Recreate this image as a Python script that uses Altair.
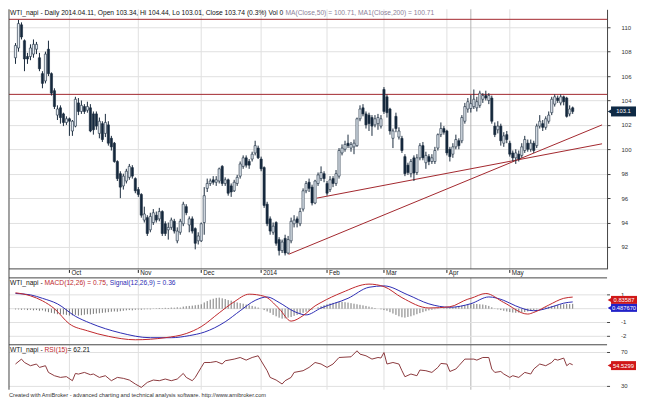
import altair as alt
import pandas as pd

# ---------------- data ----------------
opens = [107.5,108.3,110.2,108.9,107.6,107.6,107.8,108.2,107.5,106.2,
         105.6,108.2,106.2,104.8,102.8,103.4,102.9,102.2,102.5,101.5,
         101.9,103.8,103.1,103.5,103.2,103.4,102.9,102.9,101.3,102.1,
         101.3,102.0,100.9,100.5,99.0,98.0,97.0,97.4,97.7,98.5,
         97.6,96.7,96.3,94.2,94.4,93.4,94.0,94.6,94.3,94.9,
         93.9,93.4,93.6,94.1,92.5,93.2,93.9,95.3,93.8,94.3,
         93.5,92.5,92.5,94.0,96.8,97.2,97.5,97.3,97.4,98.6,
         97.2,97.5,97.0,96.6,97.2,97.8,98.6,99.3,99.0,99.2,
         99.7,100.1,99.2,98.5,95.5,94.3,93.2,94.0,92.6,91.7,
         92.7,91.5,92.5,93.9,94.3,93.9,95.1,96.6,97.3,96.9,
         95.6,97.2,97.6,98.0,97.2,96.7,97.6,97.2,97.8,99.7,
         100.0,100.5,100.1,100.2,100.3,102.5,103.4,102.9,102.8,102.6,
         102.0,102.1,101.9,104.9,104.3,103.3,100.9,102.7,101.0,100.9,
         99.4,98.7,98.0,99.3,98.1,99.3,100.3,98.9,99.4,99.0,
         99.0,100.1,101.2,101.7,101.5,100.0,99.6,100.2,100.7,100.7,
         102.3,103.3,103.34,103.5,103.4,103.6,104.1,104.4,104.0,104.2,
         101.9,101.6,101.9,100.5,101.2,100.5,99.7,99.3,99.6,99.5,
         99.9,100.5,100.0,100.5,100.3,101.9,102.1,101.8,102.3,103.0,
         103.7,104.2,103.8,104.3,104.2,102.9,103.4]
highs = [108.7,110.6,110.4,109.0,107.9,108.6,109.0,108.8,107.9,106.4,
         108.0,108.9,106.3,105.0,103.6,103.6,103.0,102.7,102.6,102.4,
         104.3,104.2,104.0,103.7,103.9,103.7,103.1,103.1,102.6,102.3,
         102.9,102.3,101.1,100.6,99.1,98.2,98.0,98.4,98.8,98.7,
         97.7,96.9,96.4,95.3,94.6,94.8,95.1,94.9,95.2,95.0,
         94.1,94.0,94.4,94.3,93.6,94.3,95.7,95.5,94.5,94.5,
         93.6,93.2,94.0,96.9,97.6,97.6,97.8,97.8,98.5,98.7,
         97.7,97.6,97.2,97.5,97.9,99.0,99.5,99.5,99.2,99.8,
         100.7,100.3,99.4,98.6,95.7,94.5,94.0,94.1,92.8,92.6,
         93.0,92.9,94.4,94.6,94.5,95.2,96.8,97.4,97.6,97.1,
         97.5,98.1,98.6,98.2,97.4,97.8,97.8,98.3,100.1,100.4,
         100.7,101.2,100.6,100.8,102.6,103.6,103.7,103.1,103.0,102.8,
         102.8,102.9,102.8,105.1,104.5,103.4,101.7,103.0,101.8,101.1,
         99.6,98.9,99.2,99.5,99.6,100.5,100.6,99.8,99.6,99.6,
         100.2,101.3,102.2,101.9,101.6,100.2,100.5,101.2,100.9,102.8,
         103.8,104.2,104.44,104.9,104.3,104.8,104.6,104.8,104.6,104.4,
         102.2,102.3,102.1,101.4,101.5,100.7,99.9,100.0,99.9,100.5,
         101.1,100.8,100.8,100.7,102.1,102.8,102.4,102.7,103.1,104.3,
         104.5,104.4,104.5,104.4,104.3,103.6,103.5]
lows = [107.0,108.0,109.0,106.4,107.0,107.3,107.5,107.8,106.4,105.0,
        105.4,106.0,104.4,103.3,102.4,102.1,101.9,102.0,101.1,101.1,
        101.8,102.8,102.9,102.9,103.0,101.4,101.2,101.6,100.9,100.6,
        101.0,100.3,99.9,98.9,97.4,96.0,96.7,97.2,97.5,97.6,
        96.4,96.1,94.4,94.0,92.9,93.2,93.8,94.0,94.1,92.9,
        92.9,92.6,93.4,93.1,92.3,93.0,93.7,94.6,93.2,93.1,
        91.8,92.2,92.4,93.0,96.5,97.0,97.1,97.0,97.2,97.0,
        97.0,96.2,96.1,96.5,97.0,97.6,98.4,98.5,98.4,99.0,
        99.5,99.2,98.2,95.2,93.7,93.0,93.0,92.1,91.3,91.5,
        91.3,91.4,92.3,93.6,93.6,93.7,94.9,96.4,96.5,95.4,
        95.5,97.0,97.4,97.3,96.2,96.5,96.9,97.0,97.6,99.5,
        99.8,100.1,99.8,99.6,100.2,102.3,102.7,101.7,101.5,101.1,
        101.8,101.6,101.7,102.9,102.6,101.2,100.1,101.4,100.8,99.7,
        97.8,97.9,97.7,97.4,97.9,99.1,99.1,98.4,98.7,98.8,
        98.8,99.9,101.0,101.2,99.5,99.0,99.3,100.0,100.0,100.5,
        102.1,103.0,103.01,103.3,103.1,103.4,103.8,104.0,103.7,102.1,
        101.0,101.3,100.3,100.2,100.5,99.4,99.0,98.8,99.0,99.3,
        99.7,99.8,99.8,99.7,100.1,101.7,101.5,101.6,102.1,102.8,
        103.5,103.8,103.6,103.6,102.6,102.7,102.9]
closes = [108.5,110.3,109.2,107.4,107.4,108.3,108.6,108.6,106.6,105.4,
          107.8,106.2,104.6,103.5,103.3,102.6,102.2,102.5,102.3,102.3,
          104.1,103.1,103.6,103.1,103.5,101.5,101.6,101.9,102.3,100.8,
          102.2,100.5,100.2,99.0,97.6,96.9,97.8,98.2,98.6,97.8,
          96.6,96.3,94.6,94.7,93.1,94.5,94.8,94.2,94.9,93.1,
          93.1,93.6,94.2,93.3,93.3,94.1,95.5,94.8,94.3,93.3,
          92.3,92.9,93.9,96.2,97.2,97.4,97.3,97.5,98.4,97.2,
          97.5,96.4,96.5,97.3,97.7,98.8,99.3,98.7,98.7,99.6,
          100.3,99.3,98.4,95.4,93.9,93.3,93.7,92.3,91.7,92.4,
          91.5,92.6,94.1,94.2,94.0,94.9,96.6,97.2,96.8,95.6,
          97.4,97.9,98.1,97.6,96.4,97.5,97.2,98.0,99.9,100.1,
          100.4,100.3,100.4,100.5,102.5,103.3,102.9,102.0,102.1,101.9,
          102.5,102.6,102.5,103.1,103.0,101.5,101.5,101.7,101.5,99.9,
          98.0,98.1,99.0,98.05,99.3,100.3,99.3,99.5,99.0,99.3,
          99.9,101.2,101.7,101.4,99.7,99.4,100.2,100.8,100.3,102.6,
          103.5,103.9,103.74,104.1,103.9,104.6,104.4,104.2,104.4,102.3,
          101.2,101.9,100.7,101.1,100.8,99.6,99.3,99.7,99.2,100.2,
          100.8,100.0,100.5,99.9,101.9,102.3,101.8,102.5,102.8,104.1,
          104.3,104.0,104.3,103.9,102.7,103.3,103.1]

month_labels = ["Oct", "Nov", "Dec", "2014", "Feb", "Mar", "Apr", "May"]
month_bars = [18, 41, 62, 82, 104, 123, 144, 165]
cursor_bar = [152]

price_ticks = [92, 94, 96, 98, 100, 102, 104, 106, 108, 110]
level_lines = [110.65, 104.5]
trend_x1 = [91.2, 100.6]
trend_y1 = [91.4, 96.0]
trend_x2 = [195.8, 195.8]
trend_y2 = [102.0, 100.45]

macd_grid = [-2, -1, 0, 1]
macd_ticks = [-2, -1, 1]
macd_tick_labels = ["-2", "-1", "1"]
rsi_ticks = [30, 70]
rsi_tick_labels = ["30", "70"]

macd_bars = [0, 5, 9, 13, 18, 24, 31, 40, 50, 57, 62, 68, 73, 78, 83, 88, 92, 96, 100, 102,
             109, 118, 123, 129, 138, 145, 151, 152, 157, 163, 171, 173, 178, 183, 186]
macd_vals = [1.15, 0.93, 0.57, 0.0, -1.1, -1.6, -2.0, -2.25, -2.1, -1.8, -1.3, -0.3, 0.5, 1.05, 0.9,
             0.0, -0.9, -0.5, 0.2, 0.45, 1.17, 1.78, 1.6, 0.8, 0.05, 0.14, 0.69, 0.75, 1.1, 0.45,
             -0.39, -0.27, 0.26, 0.75, 0.84]
signal_bars = [0, 5, 9, 14, 20, 25, 35, 45, 52, 58, 63, 70, 75, 80, 84, 88, 93, 97, 102, 111,
               118, 123, 131, 138, 145, 152, 158, 163, 167, 173, 180, 183, 186]
signal_vals = [1.1, 1.0, 0.75, 0.35, -0.55, -1.05, -1.75, -2.1, -2.1, -1.95, -1.7, -0.95, -0.15,
               0.6, 0.85, 0.45, -0.2, -0.45, 0.05, 0.75, 1.55, 1.65, 1.0, 0.35, 0.1, 0.36, 0.85,
               0.6, 0.2, -0.15, 0.2, 0.4, 0.49]
hist_vals = [-0.05, -0.05, -0.08, -0.06, -0.1, -0.08, -0.12, -0.1, -0.15, -0.12,
             -0.2, -0.25, -0.3, -0.35, -0.4, -0.38, -0.42, -0.45,
             -0.5, -0.48, -0.45, -0.5, -0.47, -0.44, -0.4, -0.42, -0.38, -0.35, -0.33, -0.3, -0.28,
             -0.25, -0.22, -0.2, -0.22, -0.18, -0.15, -0.12, -0.1, -0.12, -0.08, -0.06, -0.08, -0.05, -0.04, -0.05,
             0.02, 0.03, 0.05, 0.04, 0.06, 0.05, 0.08, 0.07, 0.1, 0.08,
             0.15, 0.18, 0.2, 0.22, 0.25, 0.28, 0.32,
             0.45, 0.55, 0.65, 0.72, 0.78, 0.8, 0.75, 0.7, 0.62, 0.58,
             0.5, 0.45, 0.4, 0.36, 0.3, 0.25, 0.2, 0.15,
             0.08, 0.0, -0.1, -0.2, -0.3,
             -0.45, -0.55, -0.65, -0.72, -0.7, -0.65, -0.6, -0.52, -0.45, -0.38,
             -0.3, -0.22, -0.15, -0.08, 0.0,
             0.1, 0.18, 0.25, 0.32, 0.38, 0.42, 0.45, 0.48, 0.5, 0.47,
             0.44, 0.4, 0.36, 0.32, 0.28, 0.24, 0.2, 0.15,
             0.1, 0.05, 0.0, -0.05, -0.1, -0.15,
             -0.25, -0.35, -0.45, -0.55, -0.62, -0.65, -0.6, -0.55, -0.48, -0.4, -0.32,
             -0.25, -0.18, -0.12, -0.08, -0.04, -0.02, 0.0,
             0.03, 0.05, 0.08, 0.1, 0.14, 0.18, 0.22, 0.26,
             0.3, 0.33, 0.35, 0.34, 0.32, 0.3, 0.26, 0.2,
             0.1, 0.02, -0.05, -0.1, -0.15,
             -0.2, -0.24, -0.28, -0.3, -0.28, -0.26, -0.24, -0.2, -0.16,
             -0.1, -0.05, 0.0, 0.05, 0.1, 0.14,
             0.18, 0.22, 0.26, 0.3, 0.32, 0.34, 0.33, 0.35]
rsi_bars = [0, 2, 3, 5, 7, 8, 10, 11, 13, 15, 17, 19, 20, 21, 23, 25, 26, 28, 30, 32,
            34, 36, 38, 40, 42, 44, 46, 48, 50, 52, 54, 56, 57, 59, 60, 62, 63, 65, 67, 69,
            70, 73, 75, 77, 79, 81, 82, 84, 85, 87, 89, 90, 92, 93, 96, 98, 100, 102, 104, 106,
            108, 112, 114, 115, 117, 119, 121, 122, 123, 124, 126, 128, 129, 130, 132, 134, 135, 137, 139, 141,
            142, 144, 145, 147, 148, 150, 153, 154, 156, 158, 159, 160, 162, 163, 165, 166, 168, 170, 172, 173,
            175, 177, 179, 180, 181, 183, 184, 185, 186]
rsi_vals = [56.4, 62.2, 58.2, 54.4, 56.4, 52.4, 54.4, 46.5, 42.6, 40.6, 41.5, 36.7, 45.3, 44.5, 46.5, 43.8, 44.6, 40.6, 42.6, 36.7,
            40.6, 39.5, 37.5, 32.8, 28.8, 34.7, 37.5, 36.7, 38.7, 36.7, 38.7, 45.3, 40.6, 36.7, 40.6, 52.4, 58.2, 58.2, 59.4, 56.4,
            60.2, 62.2, 64.1, 61.0, 64.1, 66.1, 60.2, 48.5, 40.6, 37.5, 32.8, 36.7, 40.6, 46.5, 48.5, 52.4, 58.2, 56.4, 52.4, 56.4,
            64.1, 64.9, 72.0, 68.1, 66.1, 62.2, 64.1, 63.5, 70.0, 56.4, 58.2, 56.4, 48.5, 41.4, 44.6, 42.6, 49.3, 48.5, 46.5, 52.4,
            57.1, 56.4, 47.6, 50.5, 54.4, 62.2, 62.2, 61.0, 64.1, 64.1, 50.5, 46.5, 47.6, 44.6, 40.6, 42.6, 40.6, 46.5, 44.6, 50.5,
            56.4, 54.4, 58.2, 62.2, 61.0, 63.4, 54.4, 57.1, 55.5]

last_price = [103.1]
macd_last = [0.83587]
signal_last = [0.48767]
rsi_last = [54.5299]

header_main = ["WTI_napi - Daily 2014.04.11, Open 103.34, Hi 104.44, Lo 103.01, Close 103.74 (0.3%) Vol 0"]
header_ma = ["MA(Close,50) = 100.71, MA1(Close,200) = 100.71"]
macd_title = ["WTI_napi - ", "MACD(12,26) = 0.75", ",", "Signal(12,26,9) = 0.36"]
rsi_title = ["WTI_napi - ", "RSI(15)", " = 62.21"]
footer = ["Created with AmiBroker - advanced charting and technical analysis software. http://www.amibroker.com"]

# ---------------- layout & styling ----------------
W = 599
P_TOP, P_BOT = 0, 260          # price panel (pixels inside the chart)
M_TOP, M_BOT = 269, 335        # MACD panel
R_TOP, R_BOT = 336, 381        # RSI panel
H = R_BOT
FONT = "Liberation Sans"
FS = 6.7
GRID = "#e0e0e0"
FRAME = "#454545"
TREND = "#a3282e"
UP_FILL = "#e3eaf1"
DOWN_FILL = "#14283d"
EDGE = "#1b2c3e"
NAVY = "#0f2a45"
RED = "#c0282c"
BLUE = "#2d2db4"

xsc = alt.Scale(domain=[-0.5, 195.8], nice=False, zero=False)
ysP = alt.Scale(domain=[90.2, 111.47], range=[P_BOT, P_TOP], nice=False, zero=False)
ysM = alt.Scale(domain=[-2.54, 2.23], range=[M_BOT, M_TOP], nice=False, zero=False)
ysR = alt.Scale(domain=[26.1, 79.1], range=[R_BOT, R_TOP], nice=False, zero=False)


def X(field):
    return alt.X(f"{field}:Q", scale=xsc, axis=None)


def Y(field, sc):
    return alt.Y(f"{field}:Q", scale=sc, axis=None)


candles = pd.DataFrame({"bar": list(range(len(closes))), "open": opens, "high": highs,
                        "low": lows, "close": closes})
months = pd.DataFrame({"bar": month_bars, "label": month_labels})
cursor = pd.DataFrame({"bar": cursor_bar})
trend = pd.DataFrame({"x1": trend_x1, "y1": trend_y1, "x2": trend_x2, "y2": trend_y2})
one = pd.DataFrame({"a": [0]})

layers = []

# vertical month grid + cursor line in each panel
for top, bot in [(P_TOP, P_BOT), (M_TOP, M_BOT), (R_TOP, R_BOT)]:
    layers.append(alt.Chart(months).mark_rule(color=GRID, strokeWidth=1).encode(
        x=X("bar"), y=alt.value(top), y2=alt.value(bot)))
    layers.append(alt.Chart(cursor).mark_rule(color="#b4b4b4", strokeWidth=1).encode(
        x=X("bar"), y=alt.value(top), y2=alt.value(bot)))

# price axis (right) with horizontal grid
axP = alt.Axis(orient="right", values=price_ticks, grid=True, gridColor=GRID, tickSize=3,
               tickColor=FRAME, domainColor=FRAME, labelFontSize=6, labelColor="#333",
               labelPadding=11, title=None, labelFont=FONT, format="d")
layers.append(alt.Chart(pd.DataFrame({"level": level_lines})).mark_rule(
    color=TREND, strokeWidth=1).encode(y=alt.Y("level:Q", scale=ysP, axis=axP)))

# MACD / RSI horizontal grid
layers.append(alt.Chart(pd.DataFrame({"g": macd_grid})).mark_rule(color=GRID, strokeWidth=1).encode(
    y=Y("g", ysM)))
layers.append(alt.Chart(pd.DataFrame({"g": rsi_ticks})).mark_rule(color=GRID, strokeWidth=1).encode(
    y=Y("g", ysR)))

# trend lines
layers.append(alt.Chart(trend).mark_rule(color=TREND, strokeWidth=1).encode(
    x=X("x1"), x2="x2:Q", y=Y("y1", ysP), y2="y2:Q"))

# candles
cbase = alt.Chart(candles).transform_calculate(dir="datum.close >= datum.open ? 'up' : 'down'")
layers.append(cbase.mark_rule(color=EDGE, strokeWidth=1).encode(
    x=X("bar"), y=Y("low", ysP), y2="high:Q"))
layers.append(cbase.mark_bar(size=2.2, stroke=EDGE, strokeWidth=0.6).encode(
    x=X("bar"), y=Y("open", ysP), y2="close:Q",
    color=alt.Color("dir:N", scale=alt.Scale(domain=["up", "down"], range=[UP_FILL, DOWN_FILL]),
                    legend=None)))

# MACD
layers.append(alt.Chart(pd.DataFrame({"bar": list(range(len(hist_vals))), "h": hist_vals})).mark_rule(
    color="#6a6a6a", strokeWidth=0.9).encode(x=X("bar"), y=Y("h", ysM), y2=alt.datum(0)))
layers.append(alt.Chart(pd.DataFrame({"bar": signal_bars, "v": signal_vals})).mark_line(
    color=BLUE, strokeWidth=1, interpolate="monotone").encode(x=X("bar"), y=Y("v", ysM)))
layers.append(alt.Chart(pd.DataFrame({"bar": macd_bars, "v": macd_vals})).mark_line(
    color=RED, strokeWidth=1, interpolate="monotone").encode(x=X("bar"), y=Y("v", ysM)))

# RSI
layers.append(alt.Chart(pd.DataFrame({"bar": rsi_bars, "v": rsi_vals})).mark_line(
    color="#8c3a3e", strokeWidth=1).encode(x=X("bar"), y=Y("v", ysR)))

# frame lines: left border, separators
layers.append(alt.Chart(one).mark_rule(color=FRAME, strokeWidth=1).encode(
    x=alt.value(0), y=alt.value(0), y2=alt.value(H)))
for yy in [P_BOT, M_TOP, R_TOP]:
    layers.append(alt.Chart(one).mark_rule(color=FRAME, strokeWidth=1).encode(
        x=alt.value(0), x2=alt.value(W), y=alt.value(yy)))

# date band
layers.append(alt.Chart(months).mark_rule(color="#222", strokeWidth=1).encode(
    x=X("bar"), y=alt.value(P_BOT + 1), y2=alt.value(P_BOT + 4)))
layers.append(alt.Chart(months).mark_text(font=FONT, fontSize=6.3, color="#222", align="left",
                                          baseline="middle", dx=2).encode(
    x=X("bar"), y=alt.value(P_BOT + 4.5), text="label:N"))

# right-hand labels of MACD and RSI panels
for vals, labs, sc in [(macd_ticks, macd_tick_labels, ysM), (rsi_ticks, rsi_tick_labels, ysR)]:
    d = pd.DataFrame({"v": vals, "t": labs})
    layers.append(alt.Chart(d).mark_rule(color=FRAME, strokeWidth=1).encode(
        x=alt.value(W), x2=alt.value(W + 3), y=Y("v", sc)))
    layers.append(alt.Chart(d).mark_text(font=FONT, fontSize=6, color="#333", align="left",
                                         baseline="middle").encode(
        x=alt.value(W + 14), y=Y("v", sc), text="t:N"))


# texts
def txt(s, x, y, color="#111", size=FS):
    return alt.Chart(pd.DataFrame({"t": [s]})).mark_text(
        font=FONT, fontSize=size, color=color, align="left", baseline="middle").encode(
        x=alt.value(x), y=alt.value(y), text="t:N")


layers.append(txt(header_main[0], 1, 3.8))
layers.append(txt(header_ma[0], 277, 3.8, color="#8c8098"))
for s, x, c in zip(macd_title, [1, 35.6, 97.2, 100.9], ["#111", RED, "#111", BLUE]):
    layers.append(txt(s, x, M_TOP + 5.5, color=c))
for s, x, c in zip(rsi_title, [1, 35.6, 58.7], ["#111", RED, "#111"]):
    layers.append(txt(s, x, R_TOP + 5.5, color=c))
layers.append(txt(footer[0], 0, H + 5, color="#333", size=5.65))


# value label boxes on the right
def label_box(vals, label, sc, color, width, shift=None, thick=9):
    base = alt.Chart(pd.DataFrame({"v": vals, "t": [label]}))
    yf = "v"
    if shift is not None:
        base = base.transform_calculate(pos=f"datum.v + ({shift})")
        yf = "pos"
    cx = W + 4 + width / 2
    return [
        base.mark_tick(size=width, thickness=thick, color=color, opacity=1, orient="horizontal").encode(
            x=alt.value(cx), y=Y(yf, sc)),
        base.mark_point(shape="triangle-left", filled=True, size=30, color=color, opacity=1).encode(
            x=alt.value(W + 3), y=Y(yf, sc)),
        base.mark_text(font=FONT, fontSize=5.8, color="white", align="center", baseline="middle").encode(
            x=alt.value(cx), y=Y(yf, sc), text="t:N"),
    ]


layers += label_box(last_price, "103.1", ysP, NAVY, 25, thick=10)
layers += label_box(macd_last, "0.83587", ysM, "#d01818", 26, shift=-0.2, thick=8)
layers += label_box(signal_last, "0.487670", ysM, "#2222c8", 26, shift=-0.43, thick=8)
layers += label_box(rsi_last, "54.5299", ysR, "#d01818", 25)

chart = alt.layer(*layers).resolve_scale(y="independent").properties(
    width=W, height=H, padding={"left": 0, "top": 0, "right": 0, "bottom": 0}
).configure_view(stroke=None)

chart.save("out.html", embed_options={"renderer": "svg", "actions": False})
